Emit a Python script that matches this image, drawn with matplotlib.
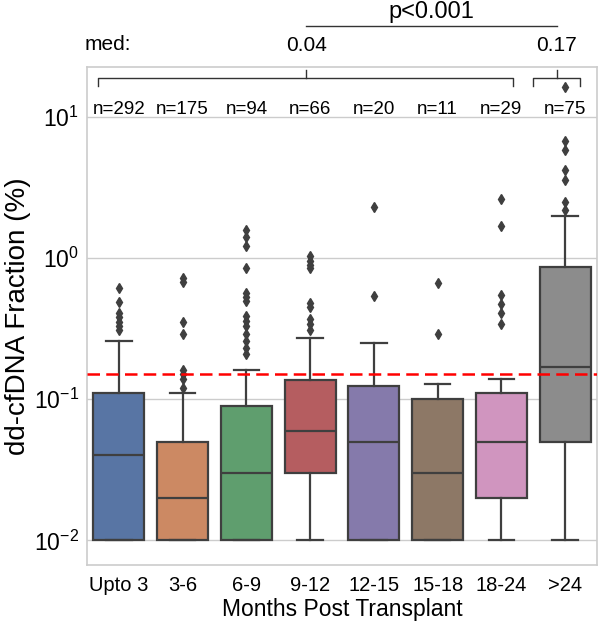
import numpy as np
import matplotlib
matplotlib.use('Agg')
import matplotlib.pyplot as plt
import matplotlib.transforms as mtransforms
from matplotlib.lines import Line2D

plt.rcParams['font.family'] = ['Liberation Sans', 'DejaVu Sans']
plt.rcParams['mathtext.default'] = 'regular'

# data (values in %)
categories = ['Upto 3', '3-6', '6-9', '9-12', '12-15', '15-18', '18-24', '>24']
counts = [292, 175, 94, 66, 20, 11, 29, 75]
q1 = [0.01, 0.01, 0.01, 0.03, 0.01, 0.01, 0.02, 0.05]
med = [0.04, 0.02, 0.03, 0.06, 0.05, 0.03, 0.05, 0.17]
q3 = [0.11, 0.05, 0.09, 0.137, 0.124, 0.10, 0.11, 0.87]
whislo = [0.01, 0.01, 0.01, 0.01, 0.01, 0.01, 0.01, 0.01]
whishi = [0.26, 0.11, 0.16, 0.27, 0.25, 0.129, 0.14, 2.0]
fliers = [
    [0.61, 0.49, 0.41, 0.38, 0.35, 0.33, 0.31],
    [0.72, 0.68, 0.35, 0.29, 0.16, 0.15, 0.14, 0.12],
    [1.58, 1.41, 1.22, 0.85, 0.57, 0.53, 0.50, 0.39, 0.36, 0.33, 0.29, 0.26, 0.23, 0.21],
    [1.03, 0.95, 0.90, 0.85, 0.48, 0.45, 0.37, 0.34, 0.31],
    [2.3, 0.54],
    [0.67, 0.29],
    [2.6, 1.7, 0.55, 0.47, 0.41, 0.34],
    [16.3, 6.8, 5.8, 4.2, 3.6, 2.5, 2.2],
]
cutoff = 0.15
group_meds = ['0.04', '0.17']
pval = 'p<0.001'

colors = ['#5875a4', '#cc8963', '#5f9e6e', '#b55d60',
          '#857aab', '#8d7866', '#d095bf', '#8c8c8c']
edge = '#3f3f3f'

fig = plt.figure(figsize=(6, 6.29), dpi=100)
ax = fig.add_axes([0.145, 0.1017, 0.85, 0.792])

stats = []
for i in range(len(categories)):
    stats.append(dict(med=med[i], q1=q1[i], q3=q3[i], whislo=whislo[i],
                      whishi=whishi[i], fliers=fliers[i]))

bp = ax.bxp(stats, positions=range(len(categories)), widths=0.8,
            patch_artist=True, showfliers=True,
            boxprops=dict(edgecolor=edge, linewidth=1.6),
            medianprops=dict(color=edge, linewidth=1.6),
            whiskerprops=dict(color=edge, linewidth=1.6),
            capprops=dict(color=edge, linewidth=1.6),
            flierprops=dict(marker='d', markerfacecolor=edge, markeredgecolor=edge,
                            markersize=5.5, linestyle='none'))
for patch, c in zip(bp['boxes'], colors):
    patch.set_facecolor(c)

ax.set_yscale('log')
ax.set_ylim(0.0067, 22.6)
ax.set_xlim(-0.5, 7.5)
ax.axhline(cutoff, color='red', linestyle='--', linewidth=1.8, dashes=(5, 2.5), zorder=5)

ax.set_yticks([0.01, 0.1, 1, 10])
ax.set_yticklabels([r'$10^{-2}$', r'$10^{-1}$', r'$10^{0}$', r'$10^{1}$'], fontsize=16.5)
ax.minorticks_off()
ax.set_xticks(range(len(categories)))
ax.set_xticklabels(categories, fontsize=14.5)
ax.tick_params(axis='x', length=0, pad=8)
ax.tick_params(axis='y', length=0, pad=6)
ax.yaxis.grid(True, color='#cccccc', linewidth=1)
ax.set_axisbelow(True)
for s in ax.spines.values():
    s.set_color('#cccccc')
    s.set_linewidth(1.2)

ax.set_xlabel('Months Post Transplant', fontsize=16.5, labelpad=2)
ax.set_ylabel('dd-cfDNA Fraction (%)', fontsize=20, labelpad=2)

# sample counts inside the top of the axes
tr = mtransforms.blended_transform_factory(ax.transData, ax.transAxes)
for i, n in enumerate(counts):
    ax.text(i, 0.914, 'n=%d' % n, transform=tr, ha='center', va='center', fontsize=13.5)

# braces grouping the months
def brace(x0, x1, xt, y=0.978, lo=0.962, hi=0.993):
    ax.add_line(Line2D([x0, x0, x1, x1], [lo, y, y, lo], transform=tr,
                       color='#333333', linewidth=1, clip_on=False))
    ax.add_line(Line2D([xt, xt], [y, hi], transform=tr,
                       color='#333333', linewidth=1, clip_on=False))

brace(-0.33, 6.19, 2.94)
brace(6.5, 7.23, 6.87)

# medians and p value above the axes
ft = mtransforms.blended_transform_factory(ax.transData, fig.transFigure)
fig.text(0.18, 0.93, 'med:', ha='center', va='center', fontsize=15)
fig.text(2.94, 0.928, group_meds[0], transform=ft, ha='center', va='center', fontsize=15)
fig.text(6.87, 0.928, group_meds[1], transform=ft, ha='center', va='center', fontsize=15)
fig.add_artist(Line2D([2.94, 6.87], [0.959, 0.959], transform=ft,
                      color='#333333', linewidth=1))
fig.text((2.94 + 6.87) / 2, 0.981, pval, transform=ft, ha='center', va='center', fontsize=17)

plt.savefig('out.png', dpi=100)
